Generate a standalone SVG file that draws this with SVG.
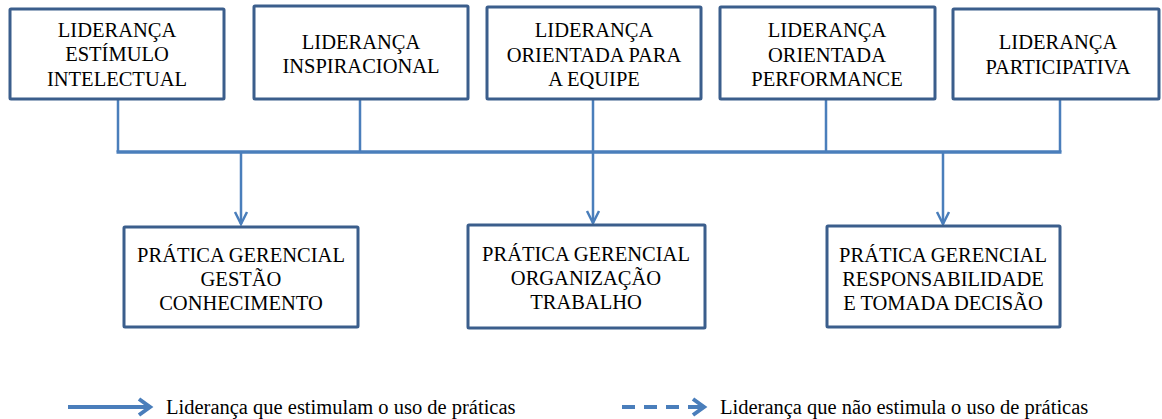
<svg xmlns="http://www.w3.org/2000/svg" width="1162" height="419" viewBox="0 0 1162 419">
<style>
.box{fill:#fff;stroke:#3B5E8C;stroke-width:3}
.t{font-family:'Liberation Serif','Times New Roman',serif;font-size:20.5px;fill:#000;text-anchor:middle}
.lg{font-family:'Liberation Serif','Times New Roman',serif;font-size:20.5px;fill:#000}
.c{fill:none;stroke:#4A7EBB;stroke-width:2.5}
.bus{fill:none;stroke:#4A7EBB;stroke-width:3.5}
.ah{fill:none;stroke:#4A7EBB;stroke-width:2.5;stroke-linejoin:miter}
.lga{fill:none;stroke:#4A7EBB;stroke-width:4}
</style>
<rect width="1162" height="419" fill="#fff"/>
<g id="connectors">
<path class="c" d="M118 99V152M360 99V152M593 99V152M826 99V152M1060 99V152"/>
<path class="bus" d="M116.5 152H1061.5"/>
<path class="c" d="M241 153V224M593 153V223M943 153V224"/>
<path class="ah" d="M235 212L241 224L247 212M587 211L593 223L599 211M937 212L943 224L949 212"/>
</g>
<g id="n1"><rect class="box" x="10" y="9" width="214" height="90" rx="1"/>
<text class="t" x="117" y="37">LIDERANÇA</text><text class="t" x="117" y="61">ESTÍMULO</text><text class="t" x="117" y="86">INTELECTUAL</text></g>
<g id="n2"><rect class="box" x="254" y="6" width="214" height="93" rx="1"/>
<text class="t" x="361" y="49">LIDERANÇA</text><text class="t" x="361" y="73">INSPIRACIONAL</text></g>
<g id="n3"><rect class="box" x="487" y="7" width="214" height="92" rx="1"/>
<text class="t" x="594" y="37">LIDERANÇA</text><text class="t" x="594" y="62">ORIENTADA PARA</text><text class="t" x="594" y="86">A EQUIPE</text></g>
<g id="n4"><rect class="box" x="720" y="7" width="215" height="92" rx="1"/>
<text class="t" x="827" y="37">LIDERANÇA</text><text class="t" x="827" y="62">ORIENTADA</text><text class="t" x="827" y="86">PERFORMANCE</text></g>
<g id="n5"><rect class="box" x="953" y="9" width="206" height="90" rx="1"/>
<text class="t" x="1058" y="49">LIDERANÇA</text><text class="t" x="1058" y="74">PARTICIPATIVA</text></g>
<g id="p1"><rect class="box" x="124" y="227" width="234" height="100" rx="1"/>
<text class="t" x="241" y="262">PRÁTICA GERENCIAL</text><text class="t" x="241" y="286">GESTÃO</text><text class="t" x="241" y="310">CONHECIMENTO</text></g>
<g id="p2"><rect class="box" x="468" y="225" width="237" height="103" rx="1"/>
<text class="t" x="586" y="261">PRÁTICA GERENCIAL</text><text class="t" x="586" y="285">ORGANIZAÇÃO</text><text class="t" x="586" y="309">TRABALHO</text></g>
<g id="p3"><rect class="box" x="827" y="226" width="233" height="101" rx="1"/>
<text class="t" x="943" y="262">PRÁTICA GERENCIAL</text><text class="t" x="943" y="286">RESPONSABILIDADE</text><text class="t" x="943" y="310">E TOMADA DECISÃO</text></g>
<g id="legend">
<path class="lga" d="M68 407H148"/><path class="lga" d="M139 399L150 407L139 415"/>
<text class="lg" x="166" y="414">Liderança que estimulam o uso de práticas</text>
<path class="lga" d="M622 407H703" stroke-dasharray="13 9"/><path class="lga" d="M693 399L704 407L693 415"/>
<text class="lg" x="720" y="414">Liderança que não estimula o uso de práticas</text>
</g>
</svg>
